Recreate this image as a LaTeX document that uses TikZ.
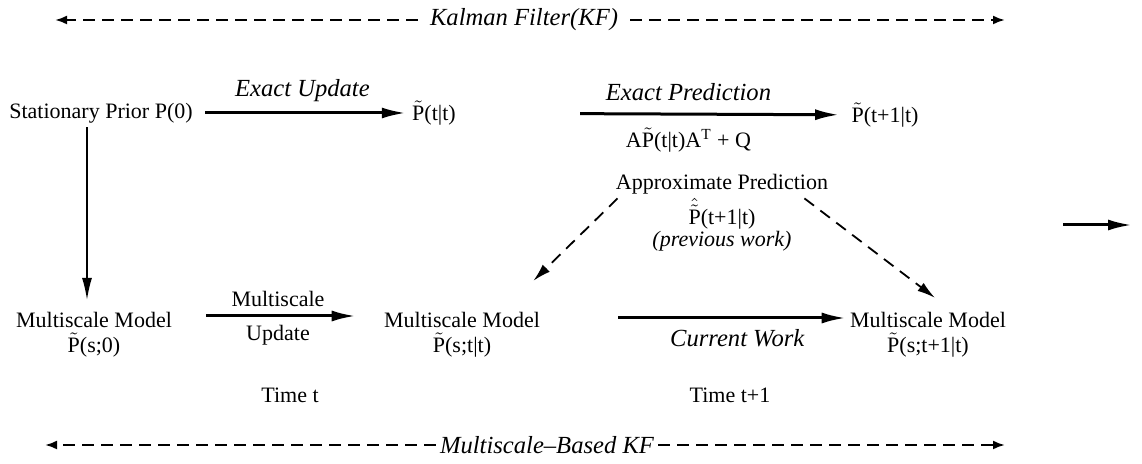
\documentclass[tikz,border=0pt]{standalone}
\usepackage{amsmath}
\usepackage{fontspec}
\setmainfont{Liberation Serif}
\usetikzlibrary{positioning, arrows.meta}

\newcommand{\Pt}{\ensuremath{\tilde{\text{P}}}}
\newcommand{\Pht}{\ensuremath{\hat{\tilde{\text{P}}}}}
\newcommand{\lbl}[1]{{\fontsize{12.3}{14}\selectfont\itshape #1}}

\begin{document}
\begin{tikzpicture}[x=0.5pt, y=-0.5pt, font=\fontsize{11}{13}\selectfont,
    every node/.style={align=center, inner sep=2pt},
    flow/.style={-{Latex[length=12pt, width=5.5pt]}, line width=1.5pt},
    guess/.style={-{Latex[length=9pt, width=5pt]}, dash pattern=on 6pt off 4pt, line width=0.9pt},
    span/.style={-{Latex[length=6pt, width=4.5pt]}, dash pattern=on 6pt off 3.5pt, line width=1.1pt}]
    \useasboundingbox (0,0) rectangle (1142,464);

    % Exact filter
    \node[inner xsep=6pt] (kf) at (524,20) {\lbl{Kalman Filter(KF)}};
    \coordinate (kfl) at (55,20);
    \coordinate (kfr) at (1005,20);
    \node (prior) at (101,113) {Stationary Prior P(0)};
    \node (pupd) at (434,113) {\Pt(t|t)};
    \node (ppred) at (885,115) {\Pt(t+1|t)};

    % Approximate prediction
    \node (approx) at (722,184) {Approximate Prediction};
    \node[below=-2pt of approx, font=\fontsize{11}{11}\selectfont] (approxp) {\Pht(t+1|t)\\ \textit{(previous work)}};

    % Multiscale model
    \node (msprior) at (94,320) {Multiscale Model};
    \node[below=-2pt of msprior] (mspriorp) {\Pt(s;0)};
    \node (msupd) at (462,320) {Multiscale Model};
    \node[below=-2pt of msupd] (msupdp) {\Pt(s;t|t)};
    \node (mspred) at (928,320) {Multiscale Model};
    \node[below=-2pt of mspred] (mspredp) {\Pt(s;t+1|t)};
    \node (timet) at (290,395) {Time t};
    \node (timetn) at (730,395) {Time t+1};
    \node (mkf) at (547,445) {\lbl{Multiscale--Based KF}};
    \coordinate (mkfl) at (45,445);
    \coordinate (mkfr) at (1005,445);
    \coordinate (outl) at (1063,225);
    \coordinate (outr) at (1132,225);

    % Connections
    \draw[span] (kf) -- (kfl);
    \draw[span] (kf) -- (kfr);
    \draw[flow, shorten <=4pt, shorten >=1pt] (prior) -- node[above=3pt] {\lbl{Exact Update}} (pupd);
    \draw[flow, shorten <=60pt, shorten >=4pt] (pupd) --
        node[above=4pt, pos=0.59] {\lbl{Exact Prediction}}
        node[below=4pt, pos=0.59] {A\Pt(t|t)A$^{\text{T}}$ + Q} (ppred);
    \draw[-{Latex[length=11pt, width=5pt]}, line width=0.7pt] ([xshift=-7pt]prior.south) -- ([xshift=-7pt, yshift=4pt]prior.south |- msprior.north);
    \draw[flow, shorten <=15pt, shorten >=12pt] ([yshift=2pt]msprior.east) -- node[above=2pt] {Multiscale} node[below=2pt] {Update} ([yshift=2pt]msupd.west);
    \draw[flow, shorten <=37pt] ([yshift=1pt]msupd.east) -- node[below=3pt, pos=0.64] {\lbl{Current Work}} ([yshift=1pt]mspred.west);
    \draw[guess] ([xshift=3pt]approx.south west) -- ([xshift=-5.5pt, yshift=13.5pt]msupd.north east);
    \draw[guess] ([xshift=-14pt]approx.south east) -- ([xshift=3.5pt, yshift=5pt]mspred.north);
    \draw[flow] (outl) -- (outr);
    \draw[span] (mkf) -- (mkfl);
    \draw[span] (mkf) -- (mkfr);
\end{tikzpicture}
\end{document}
